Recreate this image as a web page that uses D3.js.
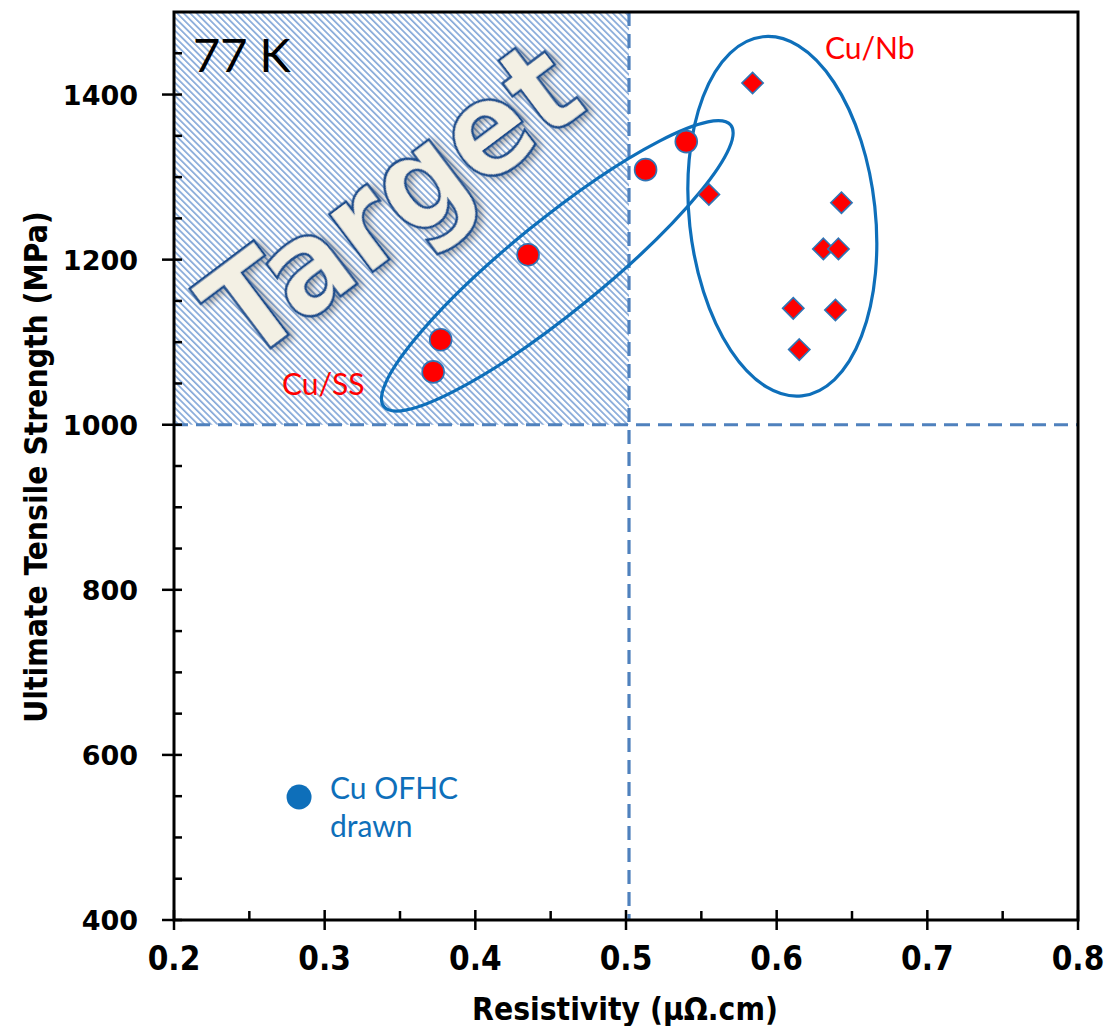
<!DOCTYPE html>
<html>
<head>
<meta charset="utf-8">
<script src="https://cdn.jsdelivr.net/npm/d3@7"></script>
<style>
  html, body { margin: 0; padding: 0; background: #fff; }
  svg { display: block; }
</style>
</head>
<body>
<svg id="chart" width="1104" height="1026"></svg>
<script>
// Ultimate tensile strength vs. resistivity of conductors at 77 K

// Cu/SS composite wires
const cuSSRes = [0.372, 0.377, 0.435, 0.513, 0.540];
const cuSSUts = [1064, 1103, 1206, 1309, 1343];

// Cu/Nb composite wires
const cuNbRes = [0.584, 0.555, 0.643, 0.631, 0.641, 0.611, 0.639, 0.615];
const cuNbUts = [1414, 1279, 1269, 1213, 1213, 1141, 1139, 1091];

// Reference conductor
const ofhcRes = [0.283];
const ofhcUts = [549];

// Axis ranges and ticks
const xDomain = [0.2, 0.8];
const yDomain = [400, 1500];
const xMajorTicks = [0.2, 0.3, 0.4, 0.5, 0.6, 0.7, 0.8];
const xMinorTicks = [0.25, 0.35, 0.45, 0.55, 0.65, 0.75];
const yMajorTicks = [400, 600, 800, 1000, 1200, 1400];
const yMinorTicks = [450, 500, 550, 650, 700, 750, 850, 900, 950, 1050, 1100, 1150, 1250, 1300, 1350, 1450];

// Target window: resistivity below this limit, strength above this limit
const targetResMax = 0.502;
const targetUtsMin = 1000;

// Group outlines: two ends of the long axis (data units)
const cuSSGroupEnds = [[0.3393, 1022], [0.5695, 1363]];
const cuNbGroupEnds = [[0.5908, 1470], [0.6167, 1035]];

const svg = d3.select("#chart");
const plotL = 174, plotR = 1078, plotT = 12, plotB = 920;

const x = d3.scaleLinear().domain(xDomain).range([plotL, plotR]);
const y = d3.scaleLinear().domain(yDomain).range([plotB, plotT]);

const defs = svg.append("defs");
const pat = defs.append("pattern")
  .attr("id", "hatch")
  .attr("patternUnits", "userSpaceOnUse")
  .attr("width", 4.6).attr("height", 10)
  .attr("patternTransform", "rotate(-45)");
pat.append("rect").attr("width", 4.6).attr("height", 10).attr("fill", "#ffffff");
pat.append("rect").attr("width", 1.7).attr("height", 10).attr("fill", "#86a9d9");

const shadow = defs.append("filter").attr("id", "shadow")
  .attr("x", "-20%").attr("y", "-20%").attr("width", "140%").attr("height", "140%");
shadow.append("feDropShadow")
  .attr("dx", 3).attr("dy", 4).attr("stdDeviation", 3.5)
  .attr("flood-color", "#000").attr("flood-opacity", 0.35);

// Hatched target window
svg.append("rect")
  .attr("x", x(xDomain[0]))
  .attr("y", y(yDomain[1]))
  .attr("width", x(targetResMax) - x(xDomain[0]))
  .attr("height", y(targetUtsMin) - y(yDomain[1]))
  .attr("fill", "url(#hatch)");

// Dashed limit lines
svg.append("line")
  .attr("x1", x(targetResMax)).attr("x2", x(targetResMax))
  .attr("y1", y(yDomain[1])).attr("y2", y(yDomain[0]))
  .attr("stroke", "#4f81bd").attr("stroke-width", 3.2)
  .attr("stroke-dasharray", "14 8");
svg.append("line")
  .attr("x1", x(xDomain[0])).attr("x2", x(xDomain[1]))
  .attr("y1", y(targetUtsMin)).attr("y2", y(targetUtsMin))
  .attr("stroke", "#4f81bd").attr("stroke-width", 3.2)
  .attr("stroke-dasharray", "14 8");

// "Target" watermark
svg.append("text")
  .attr("transform", "translate(419,237) rotate(-37)")
  .attr("text-anchor", "middle")
  .attr("font-family", "DejaVu Sans, Verdana, sans-serif")
  .attr("font-weight", "bold")
  .attr("font-size", 132)
  .attr("textLength", 430)
  .attr("lengthAdjust", "spacingAndGlyphs")
  .attr("fill", "#f3f0e4")
  .attr("stroke", "#1f4e8c")
  .attr("stroke-width", 2.6)
  .attr("filter", "url(#shadow)")
  .text("Target");

// Group outlines
function groupEllipse(ends, halfWidth) {
  const p0 = [x(ends[0][0]), y(ends[0][1])];
  const p1 = [x(ends[1][0]), y(ends[1][1])];
  const cx = (p0[0] + p1[0]) / 2, cy = (p0[1] + p1[1]) / 2;
  const rx = Math.hypot(p1[0] - p0[0], p1[1] - p0[1]) / 2;
  const ang = Math.atan2(p1[1] - p0[1], p1[0] - p0[0]) * 180 / Math.PI;
  svg.append("ellipse")
    .attr("transform", `translate(${cx},${cy}) rotate(${ang})`)
    .attr("rx", rx).attr("ry", halfWidth)
    .attr("fill", "none")
    .attr("stroke", "#0e6fba")
    .attr("stroke-width", 3.2);
}
groupEllipse(cuSSGroupEnds, 46);
groupEllipse(cuNbGroupEnds, 93);

// Axes
const axisColor = "#000";
const axes = svg.append("g");
axes.append("rect")
  .attr("x", plotL).attr("y", plotT)
  .attr("width", plotR - plotL).attr("height", plotB - plotT)
  .attr("fill", "none").attr("stroke", axisColor).attr("stroke-width", 3);

// x ticks: major cross the axis, minor point inward
axes.selectAll(".xmaj").data(xMajorTicks).join("line")
  .attr("x1", d => x(d)).attr("x2", d => x(d))
  .attr("y1", plotB - 10).attr("y2", plotB + 10)
  .attr("stroke", axisColor).attr("stroke-width", 2.5);
axes.selectAll(".xmin").data(xMinorTicks).join("line")
  .attr("x1", d => x(d)).attr("x2", d => x(d))
  .attr("y1", plotB - 9).attr("y2", plotB)
  .attr("stroke", axisColor).attr("stroke-width", 2.5);
axes.selectAll(".xlab").data(xMajorTicks).join("text")
  .attr("x", d => x(d)).attr("y", 970)
  .attr("text-anchor", "middle")
  .attr("font-family", "DejaVu Sans Condensed, DejaVu Sans, sans-serif")
  .attr("font-stretch", "condensed")
  .attr("font-weight", "bold")
  .attr("font-size", 33)
  .attr("fill", "#000")
  .text(d => d3.format(".1f")(d));

// y ticks
axes.selectAll(".ymaj").data(yMajorTicks).join("line")
  .attr("x1", plotL - 12).attr("x2", plotL + 8)
  .attr("y1", d => y(d)).attr("y2", d => y(d))
  .attr("stroke", axisColor).attr("stroke-width", 2.5);
axes.selectAll(".ymin").data(yMinorTicks).join("line")
  .attr("x1", plotL).attr("x2", plotL + 8)
  .attr("y1", d => y(d)).attr("y2", d => y(d))
  .attr("stroke", axisColor).attr("stroke-width", 2.5);
axes.selectAll(".ylab").data(yMajorTicks).join("text")
  .attr("x", 138).attr("y", d => y(d) + 10)
  .attr("text-anchor", "end")
  .attr("font-family", "DejaVu Sans, Verdana, sans-serif")
  .attr("font-weight", "bold")
  .attr("font-size", 27)
  .attr("fill", "#000")
  .text(d => d);

// Axis titles
svg.append("text")
  .attr("x", 625).attr("y", 1020)
  .attr("text-anchor", "middle")
  .attr("font-family", "DejaVu Sans Condensed, DejaVu Sans, sans-serif")
  .attr("font-stretch", "condensed")
  .attr("font-weight", "bold")
  .attr("font-size", 31.5)
  .text("Resistivity (μΩ.cm)");
svg.append("text")
  .attr("transform", "translate(47,467) rotate(-90)")
  .attr("text-anchor", "middle")
  .attr("font-family", "DejaVu Sans Condensed, DejaVu Sans, sans-serif")
  .attr("font-stretch", "condensed")
  .attr("font-weight", "bold")
  .attr("font-size", 31.5)
  .text("Ultimate Tensile Strength (MPa)");

// Markers
const markerStroke = "#2e75b6";
svg.append("g").selectAll("circle").data(d3.range(cuSSRes.length)).join("circle")
  .attr("cx", i => x(cuSSRes[i])).attr("cy", i => y(cuSSUts[i]))
  .attr("r", 11)
  .attr("fill", "#ff0000").attr("stroke", markerStroke).attr("stroke-width", 1.6);

const diamond = d3.symbol().type(d3.symbolDiamond2).size(290);
svg.append("g").selectAll("path").data(d3.range(cuNbRes.length)).join("path")
  .attr("transform", i => `translate(${x(cuNbRes[i])},${y(cuNbUts[i])})`)
  .attr("d", diamond)
  .attr("fill", "#ff0000").attr("stroke", markerStroke).attr("stroke-width", 1.6);

svg.append("g").selectAll("circle").data(d3.range(ofhcRes.length)).join("circle")
  .attr("cx", i => x(ofhcRes[i])).attr("cy", i => y(ofhcUts[i]))
  .attr("r", 12.5)
  .attr("fill", "#0e6fba");

// Annotations
const labelFont = "Lato, Carlito, sans-serif";
svg.append("text").attr("x", 193).attr("y", 72)
  .attr("font-family", labelFont).attr("font-size", 47).attr("fill", "#000")
  .text("77 K");
svg.append("text").attr("x", 282).attr("y", 395)
  .attr("font-family", labelFont).attr("font-size", 30).attr("fill", "#ff0000")
  .text("Cu/SS");
svg.append("text").attr("x", 825).attr("y", 59)
  .attr("font-family", labelFont).attr("font-size", 30).attr("fill", "#ff0000")
  .text("Cu/Nb");
const ofhcLabel = svg.append("text")
  .attr("font-family", labelFont).attr("font-size", 30).attr("fill", "#0e6fba");
ofhcLabel.append("tspan").attr("x", 330).attr("y", 799).text("Cu OFHC");
ofhcLabel.append("tspan").attr("x", 330).attr("y", 837).text("drawn");
</script>
</body>
</html>
